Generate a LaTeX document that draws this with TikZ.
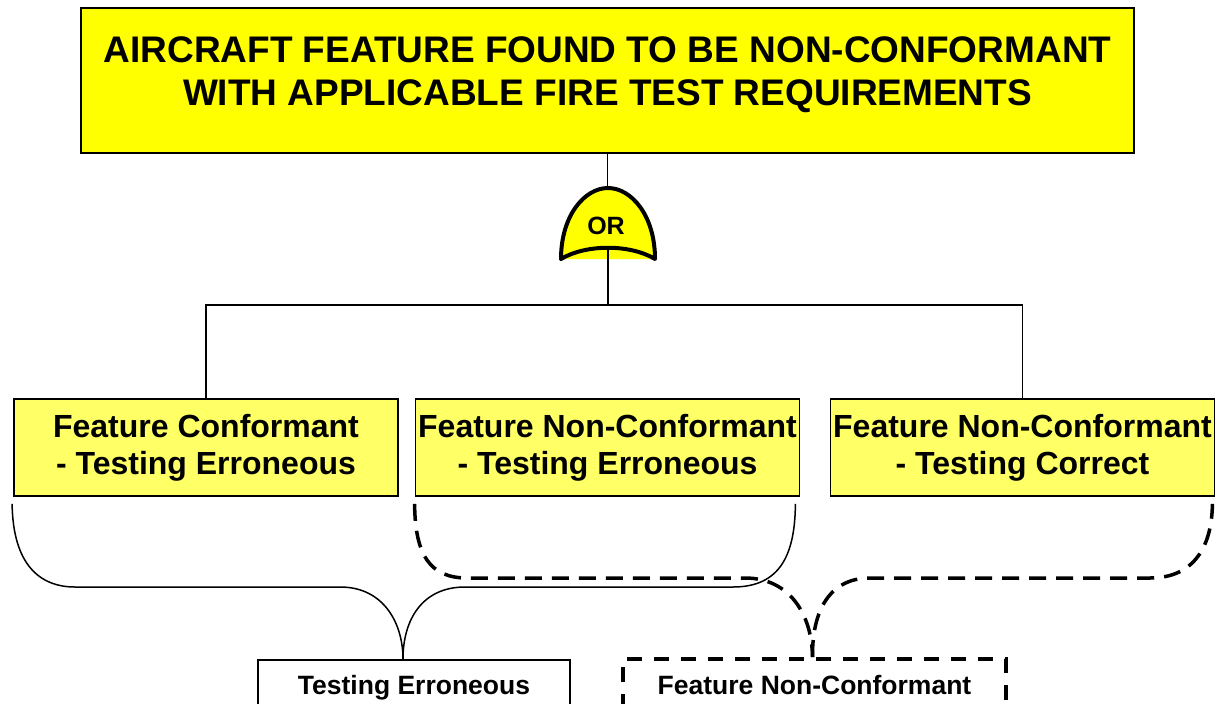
\documentclass[tikz,border=0pt]{standalone}
\usepackage{fontspec}
\setmainfont{Liberation Sans}
\usetikzlibrary{calc}
\definecolor{gateyellow}{HTML}{FFFF00}
\definecolor{boxyellow}{HTML}{FFFF66}
\begin{document}
\begin{tikzpicture}[x=1pt,y=-1pt,
  conn/.style={draw=black, line width=1.4pt},
  tbox/.style={draw=black, line width=1.8pt, fill=boxyellow, minimum width=384pt,
    minimum height=97pt, inner sep=0pt, align=center,
    font=\fontsize{32}{37}\selectfont\bfseries},
  topbox/.style={draw=black, line width=1.8pt, fill=gateyellow, minimum width=1053pt,
    minimum height=145pt, inner sep=0pt},
  titletext/.style={align=center, inner sep=0pt, font=\fontsize{37}{43}\selectfont\bfseries},
  gateline/.style={draw=black, line width=4pt, line cap=round, line join=round},
  solidbrace/.style={draw=black, line width=1.5pt},
  dashbrace/.style={draw=black, line width=3.5pt, dash pattern=on 17pt off 10pt},
  resultbox/.style={draw=black, line width=1.8pt, fill=white, minimum width=312pt,
    minimum height=90pt, anchor=north, inner sep=0pt},
  dashresult/.style={draw=black, line width=4pt, fill=white, minimum width=383pt,
    minimum height=90pt, anchor=north, inner sep=0pt, dash pattern=on 15pt off 12pt},
  resulttext/.style={anchor=base, inner sep=0pt, font=\fontsize{26.5}{30}\selectfont\bfseries}]
\clip (0,0) rectangle (1218,704);
\fill[white] (0,0) rectangle (1218,704);

% top event
\node[topbox] (top) at (607.5,80.5) {};
\node[titletext] (title) at (607.5,75) {AIRCRAFT FEATURE FOUND TO BE NON-CONFORMANT\\WITH APPLICABLE FIRE TEST REQUIREMENTS};

% OR gate
\coordinate (gtop) at (608,188);
\coordinate (gbot) at (608,250);
\coordinate (bus) at (608,305);
\fill[gateyellow] (561,259) .. controls (561,215) and (585,188) .. (608,188)
  .. controls (631,188) and (655,215) .. (655,259) -- cycle;
\draw[gateline] (561,259) .. controls (561,215) and (585,188) .. (608,188)
  .. controls (631,188) and (655,215) .. (655,259)
  .. controls (630,244) and (586,244) .. (561,259);
\node[font=\fontsize{25}{30}\selectfont\bfseries, inner sep=0pt] (gate) at (606,226) {OR};

% boxes
\node[tbox] (A) at (206,447.5) {Feature Conformant\\- Testing Erroneous};
\node[tbox] (B) at (607.5,447.5) {Feature Non-Conformant\\- Testing Erroneous};
\node[tbox] (C) at (1022.5,447.5) {Feature Non-Conformant\\- Testing Correct\vphantom{g}};

% connectors
\draw[conn] (top.south) -- (top.south |- gtop);
\draw[conn] (gbot) -- (bus);
\draw[conn] (A.north) -- (A.north |- bus) -- (C.north |- bus) -- (C.north);

% result boxes
\node[resultbox] (te) at (414,659) {};
\node[resulttext] (tetext) at (414,694) {Testing Erroneous};
\node[dashresult] (db) at (814.5,657) {};
\node[resulttext] (dbtext) at (814.5,694) {Feature Non-Conformant};

% solid brace
\coordinate (stip) at ($(te.north)+(-11,0)$);
\draw[solidbrace] ($(A.south west)+(-1,7)$) .. controls (13,565) and (40,587) .. (75,587)
  -- (340,587) .. controls (385,587) and (403,625) .. (stip);
\draw[solidbrace] (stip) .. controls (403,620) and (422,587) .. (465,587)
  -- (733,587) .. controls (780,587) and (795,555) .. ($(B.south east)+(-5,7)$);

% dashed brace
\coordinate (dtip) at ($(db.north)+(-2,0)$);
\draw[dashbrace] ($(B.south west)+(0,7)$) .. controls (415,555) and (430,578) .. (467,578)
  -- (745,578) .. controls (790,578) and (812,615) .. (dtip);
\draw[dashbrace] (dtip) .. controls (812,610) and (830,578) .. (870,578)
  -- (1150,578) .. controls (1195,578) and (1212,545) .. ($(C.south east)+(-3,7)$);
\end{tikzpicture}
\end{document}
